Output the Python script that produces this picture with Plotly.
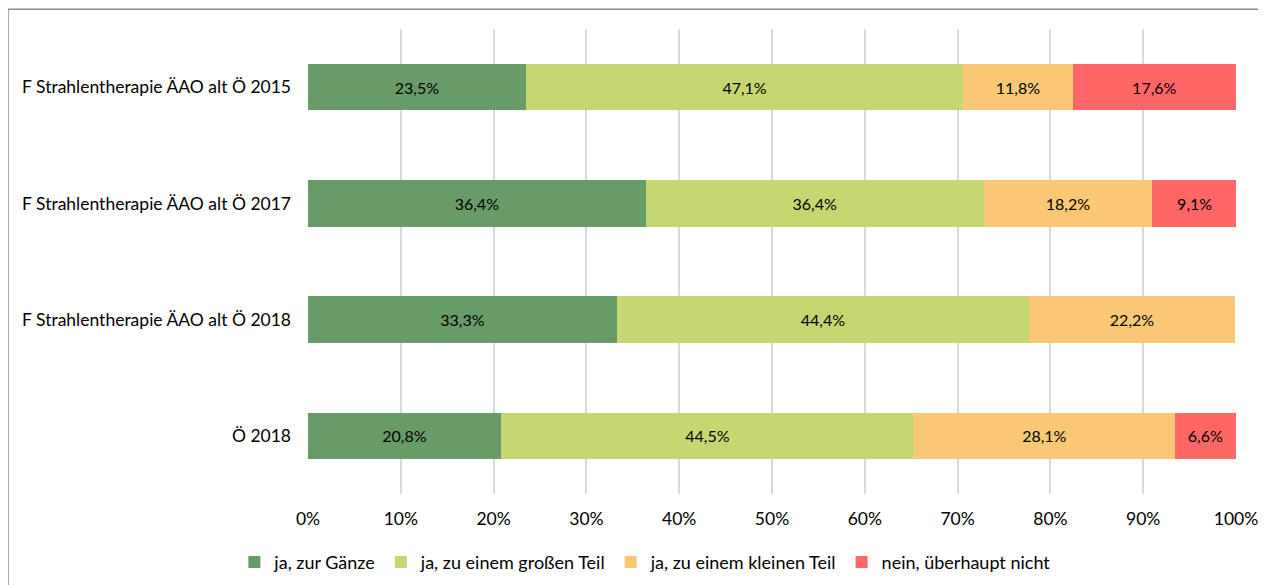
import plotly.graph_objects as go

# categories (top to bottom as shown)
categories = [
    "F Strahlentherapie ÄAO alt Ö 2015",
    "F Strahlentherapie ÄAO alt Ö 2017",
    "F Strahlentherapie ÄAO alt Ö 2018",
    "Ö 2018",
]

series_names = [
    "ja, zur Gänze",
    "ja, zu einem großen Teil",
    "ja, zu einem kleinen Teil",
    "nein, überhaupt nicht",
]

zur_gaenze = [23.5, 36.4, 33.3, 20.8]
grossen_teil = [47.1, 36.4, 44.4, 44.5]
kleinen_teil = [11.8, 18.2, 22.2, 28.1]
ueberhaupt_nicht = [17.6, 9.1, 0.0, 6.6]

colors = ["#679B67", "#C6D772", "#F8C875", "#FF6666"]

tick_vals = [0, 10, 20, 30, 40, 50, 60, 70, 80, 90, 100]
tick_text = ["0%", "10%", "20%", "30%", "40%", "50%", "60%", "70%", "80%", "90%", "100%"]

all_values = [zur_gaenze, grossen_teil, kleinen_teil, ueberhaupt_nicht]

fig = go.Figure()

for name, vals, col in zip(series_names, all_values, colors):
    # German decimal comma, hide empty segments
    labels = [("%.1f%%" % v).replace(".", ",") if v > 0 else "" for v in vals]
    fig.add_trace(go.Bar(
        y=categories,
        x=vals,
        name=name,
        orientation="h",
        marker=dict(color=col, line=dict(width=0)),
        text=labels,
        textposition="inside",
        insidetextanchor="middle",
        textangle=0,
        textfont=dict(color="black", size=16, family="Lato"),
        hoverinfo="skip",
    ))

# the page adds an 8px body margin, so the figure is laid out 8px up/left
fig.update_layout(
    barmode="stack",
    bargap=0.6,
    width=1266,
    height=585,
    margin=dict(l=300, r=38, t=21, b=92),
    plot_bgcolor="white",
    paper_bgcolor="white",
    font=dict(family="Lato", size=17.5, color="black"),
    uniformtext=dict(mode="show", minsize=10),
    legend=dict(
        orientation="h",
        x=0.363, xanchor="center",
        y=-0.147, yanchor="middle",
        font=dict(size=18),
        traceorder="normal",
        itemwidth=30,
    ),
    xaxis=dict(
        range=[0, 100],
        tickvals=tick_vals,
        ticktext=tick_text,
        showgrid=True,
        gridcolor="#D9D9D9",
        gridwidth=1.5,
        zeroline=False,
        showline=False,
        ticks="",
        ticklabelstandoff=12,
    ),
    yaxis=dict(
        autorange="reversed",
        showgrid=False,
        showline=False,
        ticks="",
        ticklabelstandoff=16,
    ),
    showlegend=True,
)

# outer chart border
fig.add_shape(
    type="rect",
    xref="paper", yref="paper",
    x0=(0 - 300) / 928, x1=(1280 - 300) / 928,
    y0=(493 - 600) / 472, y1=(493 - 1) / 472,
    line=dict(color="#8C8C8C", width=1.5),
    fillcolor="rgba(0,0,0,0)",
    layer="below",
)

fig.write_html("out.html")
